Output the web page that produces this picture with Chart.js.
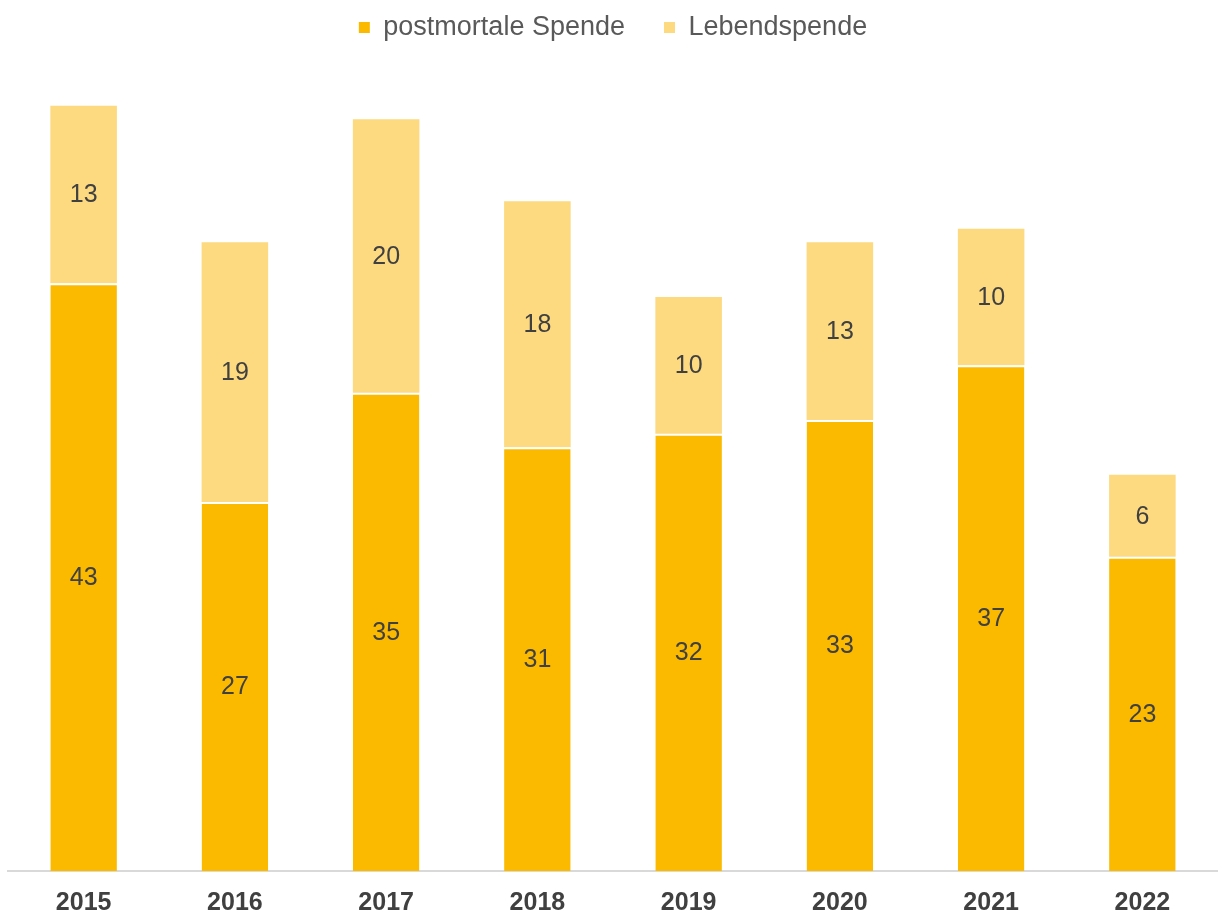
<!DOCTYPE html>
<html>
<head>
<meta charset="utf-8">
<script src="https://cdn.jsdelivr.net/npm/chart.js@4/dist/chart.umd.min.js"></script>
<style>
  html, body { margin: 0; padding: 0; background: #ffffff; }
  #wrap { width: 1218px; height: 915px; }
</style>
</head>
<body>
<div id="wrap"><canvas id="c" width="1218" height="915"></canvas></div>
<script>
const categories = ['2015', '2016', '2017', '2018', '2019', '2020', '2021', '2022'];
const postmortal = [43, 27, 35, 31, 32, 33, 37, 23];
const lebend = [13, 19, 20, 18, 10, 13, 10, 6];
const seriesNames = ['postmortale Spende', 'Lebendspende'];

const FONT = '"Liberation Sans", Arial, sans-serif';

const labelPlugin = {
  id: 'segLabels',
  afterDatasetsDraw(chart) {
    const ctx = chart.ctx;
    ctx.save();
    ctx.font = '25px ' + FONT;
    ctx.fillStyle = '#404040';
    ctx.textAlign = 'center';
    ctx.textBaseline = 'middle';
    chart.data.datasets.forEach((ds, i) => {
      const meta = chart.getDatasetMeta(i);
      meta.data.forEach((bar, j) => {
        const p = bar.getProps(['x', 'y', 'base'], true);
        ctx.fillText(String(ds.data[j]), p.x, (p.y + p.base) / 2 + 1);
      });
    });
    ctx.restore();
  }
};

new Chart(document.getElementById('c'), {
  type: 'bar',
  data: {
    labels: categories,
    datasets: [
      { label: seriesNames[0], data: postmortal, backgroundColor: '#FBBA00',
        borderColor: '#ffffff', borderWidth: { top: 2, left: 0, right: 0, bottom: 0 }, borderSkipped: 'start' },
      { label: seriesNames[1], data: lebend, backgroundColor: '#FDDA80',
        borderColor: '#ffffff', borderWidth: 0 }
    ]
  },
  options: {
    responsive: false,
    animation: false,
    devicePixelRatio: 1,
    layout: { padding: { left: 8, right: 0, top: -25, bottom: -20 } },
    datasets: { bar: { categoryPercentage: 1.0, barPercentage: 0.44 } },
    plugins: {
      legend: {
        position: 'top',
        labels: {
          boxWidth: 11, boxHeight: 11, color: '#595959', padding: 39,
          font: { size: 27, family: FONT },
          generateLabels(chart) {
            const items = Chart.defaults.plugins.legend.labels.generateLabels(chart);
            items.forEach(it => { it.lineWidth = 0; it.strokeStyle = 'rgba(0,0,0,0)'; });
            return items;
          }
        }
      },
      tooltip: { enabled: false }
    },
    scales: {
      x: {
        stacked: true,
        grid: { display: false, drawTicks: false },
        border: { display: true, color: '#d9d9d9', width: 2 },
        ticks: { color: '#404040', padding: 17,
          font: { size: 25, weight: 'bold', family: FONT } }
      },
      y: {
        stacked: true, display: false, min: 0, max: 60
      }
    }
  },
  plugins: [labelPlugin]
});
</script>
</body>
</html>
